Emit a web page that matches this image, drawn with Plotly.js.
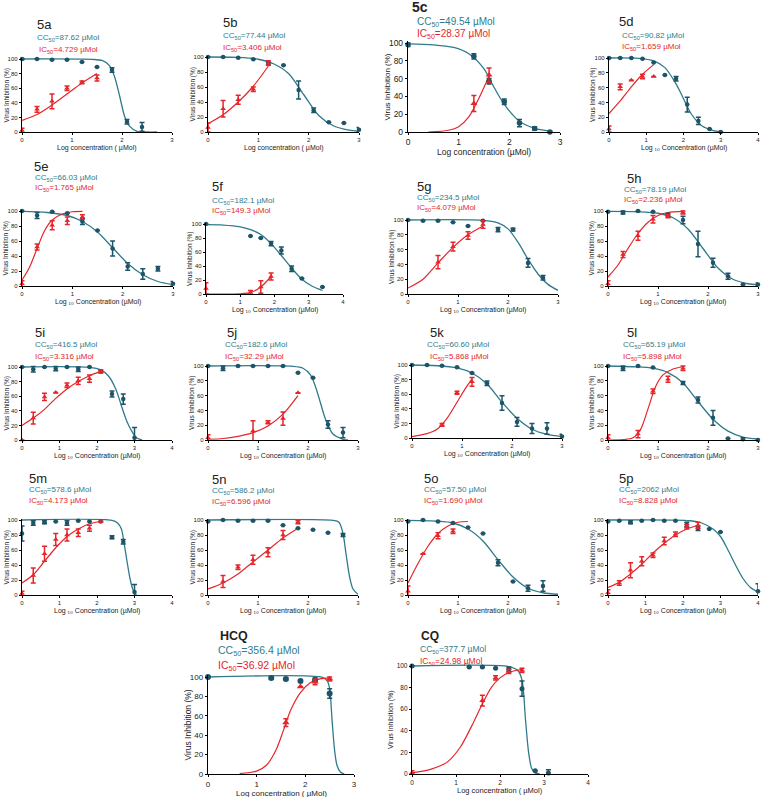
<!DOCTYPE html>
<html><head><meta charset="utf-8">
<script src="https://cdn.plot.ly/plotly-3.0.1.min.js"></script>
<style>html,body{margin:0;padding:0;background:#fff}#chart{width:761px;height:797px}</style>
</head><body><div id="chart"></div>
<script>
// ---------------- DATA ----------------
const panelNames = ["5a","5b","5c","5d","5e","5f","5g","5h","5i","5j","5k","5l","5m","5n","5o","5p","HCQ","CQ"];
const cc50Text = ["87.62","77.44","49.54","90.82","66.03","182.1","234.5","78.19","416.5","182.6","60.60","65.19","578.6","586.2","57.50","2062","356.4","377.7"];
const ic50Text = ["4.729","3.406","28.37","1.659","1.765","149.3","4.079","2.236","3.316","32.29","5.868","5.898","4.173","6.596","1.690","8.828","36.92","24.98"];
const xTickMax = [3,3,3,4,3,4,3,3,4,3,3,3,4,3,3,4,3,4];

// 5a
const a_ccX=[0,0.3,0.6,0.9,1.2,1.5,1.8,2.1,2.4], a_ccY=[100,100,99,99,96,89,85,14,7], a_ccE=[1,0,0,0,0,0,3,3,6];
const a_icX=[0,0.3,0.6,0.9,1.2,1.5], a_icY=[2,31,42,60,68,74], a_icE=[3,4,10,3,2,4];
const a_cfX=[0,1.4,1.6,1.75,1.85,1.95,2.05,2.15,2.3,2.5,2.7], a_cfY=[100,99.5,98,91,76,50,22,8,1,0,0];
const a_ifX=[0,0.3,0.6,0.9,1.2,1.5], a_ifY=[16,24,37,52,67,80];
// 5b
const b_ccX=[0,0.3,0.6,0.9,1.2,1.5,1.8,2.1,2.4,2.7,3.0], b_ccY=[100,100,99,97,91,89,56,29,13,12,3], b_ccE=[0,0,0,0,2,0,12,3,0,0,3];
const b_icX=[0,0.3,0.6,0.9,1.2], b_icY=[6,31,43,57,92], b_icE=[6,11,6,3,3];
const b_cfX=[0,0.6,1.0,1.3,1.6,1.9,2.2,2.5,2.8,3.0], b_cfY=[100,99.5,97,91,78,50,22,8,2.5,1];
const b_ifX=[0,0.3,0.6,0.9,1.2], b_ifY=[11,23,40,61,88];
// 5c
const c_ccX=[0,1.3,1.6,1.9,2.2,2.5,2.8], c_ccY=[98,85,57,34,10,4,0], c_ccE=[2,3,3,3,4,2,1];
const c_icX=[1.3,1.6], c_icY=[32,64], c_icE=[9,8];
const c_cfX=[0,0.5,0.9,1.2,1.5,1.7,1.9,2.2,2.5,2.8], c_cfY=[99,98,95,88,71,50,31,12,4,1];
const c_ifX=[0.4,0.8,1.0,1.2,1.4,1.6], c_ifY=[0,2,6,17,38,63];
// 5d
const d_ccX=[0,0.3,0.6,0.9,1.2,1.5,1.8,2.1,2.4,2.7,3.0], d_ccY=[100,100,100,99,94,77,72,37,15,4,0], d_ccE=[0,0,0,0,0,0,3,10,5,0,0];
const d_icX=[0,0.3,0.6,0.9,1.2], d_icY=[4,61,70,75,75], d_icE=[4,4,0,3,0];
const d_cfX=[0,0.8,1.2,1.5,1.8,2.0,2.2,2.5,2.8,3.0], d_cfY=[100,99.5,96,87,65,45,25,8,2,0.5];
const d_ifX=[0,0.3,0.6,0.9,1.2], d_ifY=[25,42,61,78,91];
// 5e
const e_ccX=[0,0.3,0.6,0.9,1.2,1.5,1.8,2.1,2.4,2.7,3.0], e_ccY=[100,94,99,97,86,74,50,26,16,23,3], e_ccE=[0,4,0,0,4,0,10,5,7,3,3];
const e_icX=[0,0.3,0.6,0.9,1.2], e_icY=[3,52,81,87,92], e_icE=[4,4,6,5,3];
const e_cfX=[0,0.5,0.9,1.2,1.5,1.8,2.1,2.4,2.7,3.0], e_cfY=[99.5,98,94,86,72,51,30,15,6,2];
const e_ifX=[0,0.15,0.3,0.45,0.6,0.8,1.0,1.2], e_ifY=[8,25,50,74,88,96,99,99.5];
// 5f
const f_ccX=[0,1.3,1.6,1.9,2.2,2.5,2.8,3.4], f_ccY=[100,83,80,72,62,36,22,10], f_ccE=[0,0,0,3,5,4,0,0];
const f_icX=[0,1.3,1.6,1.9], f_icY=[8,2,10,25], f_icE=[8,3,9,5];
const f_cfX=[0,0.5,1.0,1.3,1.6,1.9,2.2,2.5,2.8,3.1,3.4], f_cfY=[99,98.5,96,92,85,72,55,37,21,11,5];
const f_ifX=[0,1.0,1.3,1.6,1.9], f_ifY=[0,0.3,2,10,25];
// 5g
const g_ccX=[0,0.3,0.6,0.9,1.2,1.5,1.8,2.1,2.4,2.7], g_ccY=[100,99,99,97,92,99,87,87,42,22], g_ccE=[0,0,0,0,0,0,3,2,6,3];
const g_icX=[0.6,0.9,1.2,1.5], g_icY=[43,64,79,94], g_icE=[9,6,5,5];
const g_cfX=[0,1.5,1.8,2.0,2.2,2.4,2.6,2.8,3.0], g_cfY=[100,99.5,96,88,70,47,27,13,5];
const g_ifX=[0,0.3,0.6,0.9,1.2,1.5], g_ifY=[8,20,42,63,80,92];
// 5h
const h_ccX=[0,0.3,0.6,0.9,1.2,1.5,1.8,2.1,2.4,2.7,3.0], h_ccY=[99,98,100,99,95,88,56,31,13,2,2], h_ccE=[0,2,0,0,2,5,17,6,4,0,2];
const h_icX=[0,0.3,0.6,0.9,1.2,1.5], h_icY=[3,42,67,89,93,98], h_icE=[4,4,6,5,2,2];
const h_cfX=[0,0.6,1.0,1.3,1.6,1.9,2.2,2.5,2.8,3.0], h_cfY=[99.5,99,97,91,76,50,24,9,3,1.5];
const h_ifX=[0,0.2,0.4,0.6,0.8,1.0,1.2,1.5], h_ifY=[12,28,50,70,85,94,98,99.5];
// 5i
const i_ccX=[0,0.3,0.6,0.9,1.2,1.5,1.8,2.1,2.4,2.7,3.0], i_ccY=[100,97,100,98,100,97,100,94,63,56,3], i_ccE=[0,4,0,3,0,3,0,2,4,7,14];
const i_icX=[0,0.3,0.6,0.9,1.2,1.5,1.8,2.1], i_icY=[0,30,59,65,75,81,84,94], i_icE=[0,8,5,0,3,5,5,2];
const i_cfX=[0,1.8,2.1,2.3,2.5,2.65,2.8,2.95,3.05,3.2], i_cfY=[100,99.5,96,88,70,47,25,10,3,0];
const i_ifX=[0,0.3,0.6,0.9,1.2,1.5,1.8,2.1], i_ifY=[20,30,42,57,70,80,88,94];
// 5j
const j_ccX=[0,0.3,0.6,0.9,1.2,1.5,1.8,2.1,2.4,2.7], j_ccY=[100,97,100,100,100,100,91,84,21,10], j_ccE=[0,3,0,0,0,0,0,0,5,7];
const j_icX=[0,0.9,1.2,1.5,1.8], j_icY=[3,12,24,29,64], j_icE=[4,14,2,9,0];
const j_cfX=[0,1.7,1.9,2.05,2.15,2.25,2.35,2.5,2.7,2.8], j_cfY=[100,99.5,97,88,72,50,28,8,1,0];
const j_ifX=[0,0.3,0.6,0.9,1.2,1.5,1.8], j_ifY=[1,2,5,10,19,35,60];
// 5k
const k_ccX=[0,0.3,0.6,0.9,1.2,1.5,1.8,2.1,2.4,2.7,3.0], k_ccY=[100,100,99,97,89,75,48,22,13,13,2], k_ccE=[0,0,0,0,0,3,10,6,7,8,3];
const k_icX=[0.6,0.9,1.2], k_icY=[18,62,77], k_icE=[2,2,6];
const k_cfX=[0,0.5,0.9,1.2,1.5,1.8,2.1,2.4,2.7,3.0], k_cfY=[100,99,96,89,74,49,27,12,5,2];
const k_ifX=[0,0.3,0.5,0.7,0.9,1.05,1.2], k_ifY=[2,6,12,27,49,66,81];
// 5l
const l_ccX=[0,0.3,0.6,0.9,1.5,1.8,2.1,2.4,2.7,3.0], l_ccY=[100,97,100,98,77,54,30,2,1,0], l_ccE=[0,3,0,0,2,4,10,0,2,0];
const l_icX=[0,0.6,0.9,1.2,1.5], l_icY=[3,8,66,82,97], l_icE=[4,5,3,4,3];
const l_cfX=[0,0.5,0.9,1.2,1.5,1.8,2.1,2.4,2.7,3.0], l_cfY=[100,99,97,91,77,52,28,12,4,1.5];
const l_ifX=[0,0.3,0.5,0.65,0.8,0.95,1.1,1.3,1.5], l_ifY=[0,0.5,3,14,42,72,88,96,99];
// 5m
const m_ccX=[0,0.3,0.6,0.9,1.2,1.5,1.8,2.1,2.4,2.7,3.0], m_ccY=[82,96,97,98,96,99,98,98,77,71,4], m_ccE=[10,3,2,0,3,0,0,0,2,3,10];
const m_icX=[0,0.3,0.6,0.9,1.2,1.5,1.8,2.1], m_icY=[2,26,55,74,80,83,89,98], m_icE=[3,10,10,8,8,5,4,0];
const m_cfX=[0,2.4,2.55,2.65,2.72,2.8,2.88,2.96,3.05], m_cfY=[100,99.5,96,88,70,45,22,7,0];
const m_ifX=[0,0.3,0.6,0.9,1.2,1.5,1.8,2.1], m_ifY=[16,27,45,63,78,88,95,98];
// 5n
const n_ccX=[0,0.3,0.6,0.9,1.2,1.5,1.8,2.1,2.4,2.7], n_ccY=[98,100,99,99,99,93,89,87,83,80], n_ccE=[0,0,0,0,0,0,0,0,0,2];
const n_icX=[0.3,0.6,0.9,1.2,1.5,1.8], n_icY=[18,37,47,57,80,97], n_icE=[8,3,6,6,6,2];
const n_cfX=[0,2.5,2.62,2.7,2.76,2.83,2.9,3.0], n_cfY=[100,99.5,97,82,55,25,8,1];
const n_ifX=[0,0.3,0.6,0.9,1.2,1.5,1.8], n_ifY=[8,16,28,44,60,76,89];
// 5o
const o_ccX=[0,0.3,0.6,0.9,1.2,1.5,1.8,2.1,2.4,2.7], o_ccY=[98,100,98,96,90,82,43,18,9,12], o_ccE=[0,0,0,0,0,0,4,0,4,7];
const o_icX=[0,0.3,0.6,0.9], o_icY=[5,55,79,85], o_icE=[7,0,4,3];
const o_cfX=[0,0.6,0.9,1.2,1.5,1.8,2.1,2.4,2.7,3.0], o_cfY=[99.5,98.5,96,88,72,47,24,9,3,1];
const o_ifX=[0,0.2,0.4,0.6,0.8,1.0,1.2], o_ifY=[16,42,65,82,92,97,98];
// 5p
const p_ccX=[0,0.3,0.6,0.9,1.2,1.5,1.8,2.1,2.4,2.7,3.0,4.0], p_ccY=[98,99,97,99,100,99,99,94,89,88,84,5], p_ccE=[0,0,2,0,0,0,0,3,3,0,0,10];
const p_icX=[0,0.3,0.6,0.9,1.2,1.5,1.8,2.1,2.4], p_icY=[3,16,33,45,53,72,81,91,93], p_icE=[4,3,10,6,3,5,3,3,4];
const p_cfX=[0,2.2,2.5,2.8,3.0,3.2,3.4,3.6,3.8,4.0], p_cfY=[100,99,96,88,78,60,40,22,10,4];
const p_ifX=[0,0.3,0.6,0.9,1.2,1.5,1.8,2.1,2.4], p_ifY=[10,17,28,41,56,69,80,88,93];
// HCQ
const hcq_ccX=[0,1.3,1.6,1.9,2.2,2.5], hcq_ccY=[100,99,98,96,97,83], hcq_ccE=[0,1,1,0,2,5];
const hcq_icX=[1.6,1.9,2.2,2.5], hcq_icY=[53,90,95,98], hcq_icE=[4,0,3,2];
const hcq_cfX=[0,2.35,2.45,2.5,2.55,2.6,2.65,2.72,2.8], hcq_cfY=[100,99.5,96,88,55,25,9,2,0];
const hcq_ifX=[0.65,1.0,1.2,1.4,1.55,1.7,1.9,2.1,2.3,2.5], hcq_ifY=[0.5,3,9,25,45,66,84,94,98,99];
// CQ
const cq_ccX=[0,1.3,1.6,1.9,2.2,2.5,2.8,3.1], cq_ccY=[100,99,99,98,97,79,3,1], cq_ccE=[0,0,0,0,2,7,0,3];
const cq_icX=[0,1.6,1.9,2.2,2.5], cq_icY=[1,68,89,95,96], cq_icE=[2,5,2,2,2];
const cq_cfX=[0,2.2,2.4,2.5,2.58,2.65,2.72,2.8,2.9], cq_cfY=[100,99.5,96,87,50,20,5,1,0];
const cq_ifX=[0,0.4,0.8,1.1,1.4,1.6,1.8,2.0,2.2,2.5], cq_ifY=[1,4,11,25,48,65,80,89,94,97];

// ---------------- table built from the arrays ----------------
const series = [
 [a_ccX,a_ccY,a_ccE,a_icX,a_icY,a_icE,a_cfX,a_cfY,a_ifX,a_ifY],
 [b_ccX,b_ccY,b_ccE,b_icX,b_icY,b_icE,b_cfX,b_cfY,b_ifX,b_ifY],
 [c_ccX,c_ccY,c_ccE,c_icX,c_icY,c_icE,c_cfX,c_cfY,c_ifX,c_ifY],
 [d_ccX,d_ccY,d_ccE,d_icX,d_icY,d_icE,d_cfX,d_cfY,d_ifX,d_ifY],
 [e_ccX,e_ccY,e_ccE,e_icX,e_icY,e_icE,e_cfX,e_cfY,e_ifX,e_ifY],
 [f_ccX,f_ccY,f_ccE,f_icX,f_icY,f_icE,f_cfX,f_cfY,f_ifX,f_ifY],
 [g_ccX,g_ccY,g_ccE,g_icX,g_icY,g_icE,g_cfX,g_cfY,g_ifX,g_ifY],
 [h_ccX,h_ccY,h_ccE,h_icX,h_icY,h_icE,h_cfX,h_cfY,h_ifX,h_ifY],
 [i_ccX,i_ccY,i_ccE,i_icX,i_icY,i_icE,i_cfX,i_cfY,i_ifX,i_ifY],
 [j_ccX,j_ccY,j_ccE,j_icX,j_icY,j_icE,j_cfX,j_cfY,j_ifX,j_ifY],
 [k_ccX,k_ccY,k_ccE,k_icX,k_icY,k_icE,k_cfX,k_cfY,k_ifX,k_ifY],
 [l_ccX,l_ccY,l_ccE,l_icX,l_icY,l_icE,l_cfX,l_cfY,l_ifX,l_ifY],
 [m_ccX,m_ccY,m_ccE,m_icX,m_icY,m_icE,m_cfX,m_cfY,m_ifX,m_ifY],
 [n_ccX,n_ccY,n_ccE,n_icX,n_icY,n_icE,n_cfX,n_cfY,n_ifX,n_ifY],
 [o_ccX,o_ccY,o_ccE,o_icX,o_icY,o_icE,o_cfX,o_cfY,o_ifX,o_ifY],
 [p_ccX,p_ccY,p_ccE,p_icX,p_icY,p_icE,p_cfX,p_cfY,p_ifX,p_ifY],
 [hcq_ccX,hcq_ccY,hcq_ccE,hcq_icX,hcq_icY,hcq_icE,hcq_cfX,hcq_cfY,hcq_ifX,hcq_ifY],
 [cq_ccX,cq_ccY,cq_ccE,cq_icX,cq_icY,cq_icE,cq_cfX,cq_cfY,cq_ifX,cq_ifY]
];

// ---------------- layout geometry (pixels) ----------------
// [axisLeft, axisRight, y100, y0, titleX, titleY, ccX, ccY, icX, icY, xlabY, style]
const geom = [
 [22,172,59,132, 35,24, 35,38, 37,50, 148,'s'],
 [208,359,57,132, 221,22, 221,36, 221,48, 148,'s'],
 [408,560,43,132, 410,7.5, 415,21.5, 415,34.5, 152,'c'],
 [609,758,58,132, 617,21, 620,36, 620,47, 148,'s'],
 [22,173,211,286, 32,167, 33,178, 33,188, 302,'s'],
 [206,343,224,294, 210,187, 210,201, 210,211, 310,'s'],
 [408,558,220,294, 415,186, 415,198, 415,208, 310,'s'],
 [608,758,211,286, 625,178, 622,190, 622,200, 302,'s'],
 [22,172,367,440, 33,332, 33,345, 33,357, 456,'s'],
 [208,358,366,440, 225,332, 223,345, 223,357, 456,'s'],
 [412,562,365,438, 428,332, 425,345, 428,357, 454,'s'],
 [608,758,366,440, 625,332, 621,345, 621,357, 456,'s'],
 [22,172,520,595, 27,478, 27,490, 27,501, 611,'s'],
 [208,358,520,595, 210,480, 210,491, 210,502, 611,'s'],
 [408,558,520,595, 422,478, 422,490, 422,501, 611,'s'],
 [608,758,520,595, 617,478, 617,490, 617,501, 611,'s'],
 [208,354,677,774, 218,636, 216,651, 216,666, 793,'h'],
 [412,588,666,774, 419,636, 418,649, 418,661, 790,'q']
];
const W=761, H=797;
const TEAL='#1d5468', TEAL_LINE='#2f7b8b', RED='#e5262b';
const FONT='Liberation Sans, Arial, sans-serif';
const styles = {
 s:{title:13, titleBold:false, lab:8, tick:6, xlab:7, ylab:6.5, mk:4.5},
 c:{title:14, titleBold:true, lab:10, tick:8.5, xlab:8.5, ylab:8, mk:5.5},
 h:{title:12.5, titleBold:true, lab:10.5, tick:8, xlab:8, ylab:8.5, mk:6},
 q:{title:12, titleBold:true, lab:8.5, tick:6.5, xlab:7.5, ylab:7, mk:5}
};
const xLabels = ["Log concentration ( µMol)","Log concentration ( µMol)","Log concentration (µMol)"];

const traces=[]; const layout={width:W,height:H,margin:{l:0,r:0,t:0,b:0},paper_bgcolor:'#fff',plot_bgcolor:'rgba(0,0,0,0)',showlegend:false,annotations:[],font:{family:FONT,color:'#222'}};

panelNames.forEach((name,k)=>{
  const i=k+1, g=geom[k], st=styles[g[11]], s=series[k];
  const xa='x'+i, ya='y'+i;
  const [x0,x1,yt,yb]=g;
  const yTopPx = yb-(yb-yt)*1.02;
  const ticks=[]; for(let t=0;t<=xTickMax[k];t++) ticks.push(t);
  layout['xaxis'+i]={domain:[x0/W,x1/W],range:[0,xTickMax[k]],anchor:ya,tickvals:ticks,ticks:'outside',ticklen:2,tickwidth:1,tickcolor:'#000',
    showline:true,linecolor:'#000',linewidth:1.2,showgrid:false,zeroline:false,tickfont:{size:st.tick,color:'#222'},fixedrange:true};
  layout['yaxis'+i]={domain:[1-yb/H,1-yTopPx/H],range:[0,102],anchor:xa,tickvals:[0,20,40,60,80,100],ticks:'outside',ticklen:2,tickwidth:1,tickcolor:'#000',
    showline:true,linecolor:'#000',linewidth:1.2,showgrid:false,zeroline:false,tickfont:{size:st.tick,color:'#222'},fixedrange:true};
  const base={xaxis:xa,yaxis:ya,hoverinfo:'skip'};
  traces.push(Object.assign({type:'scatter',mode:'lines',x:s[6],y:s[7],line:{color:TEAL_LINE,width:1.3,shape:'spline',smoothing:0.8}},base));
  traces.push(Object.assign({type:'scatter',mode:'lines',x:s[8],y:s[9],line:{color:RED,width:1.2,shape:'spline',smoothing:0.8}},base));
  traces.push(Object.assign({type:'scatter',mode:'markers',x:s[0],y:s[1],cliponaxis:false,marker:{symbol:'circle',size:st.mk,color:TEAL},
    error_y:{type:'data',array:s[2],visible:true,color:TEAL,thickness:1.5,width:2.5}},base));
  traces.push(Object.assign({type:'scatter',mode:'markers',x:s[3],y:s[4],cliponaxis:false,marker:{symbol:'triangle-up',size:st.mk+0.5,color:RED},
    error_y:{type:'data',array:s[5],visible:true,color:RED,thickness:1.5,width:2.5}},base));
  const A=layout.annotations;
  const ttl = st.titleBold ? '<b>'+name+'</b>' : name;
  A.push({xref:'paper',yref:'paper',x:g[4]/W,y:1-g[5]/H,xanchor:'left',yanchor:'middle',showarrow:false,text:ttl,font:{size:st.title,color:'#222',family:FONT}});
  A.push({xref:'paper',yref:'paper',x:g[6]/W,y:1-g[7]/H,xanchor:'left',yanchor:'middle',showarrow:false,text:'CC<sub>50</sub>='+cc50Text[k]+' µMol',font:{size:st.lab,color:TEAL_LINE,family:FONT}});
  A.push({xref:'paper',yref:'paper',x:g[8]/W,y:1-g[9]/H,xanchor:'left',yanchor:'middle',showarrow:false,text:'IC<sub>50</sub>='+ic50Text[k]+' µMol',font:{size:st.lab,color:RED,family:FONT}});
  let xl;
  if(k<3) xl=xLabels[k]; else if(k>=16) xl="Log concentration ( µMol)"; else xl="Log ₁₀ Concentration (µMol)";
  A.push({xref:'paper',yref:'paper',x:(x0+x1)/2/W,y:1-g[10]/H,xanchor:'center',yanchor:'middle',showarrow:false,text:xl,font:{size:st.xlab,color:'#222',family:FONT}});
  const yOff = g[11]==='s' ? 16 : 21;
  A.push({xref:'paper',yref:'paper',x:(x0-yOff)/W,y:1-((yt+yb)/2)/H,xanchor:'center',yanchor:'middle',textangle:-90,showarrow:false,text:'Virus Inhibition (%)',font:{size:st.ylab,color:'#222',family:FONT}});
});

Plotly.newPlot('chart',traces,layout,{staticPlot:true,displayModeBar:false});
</script></body></html>
